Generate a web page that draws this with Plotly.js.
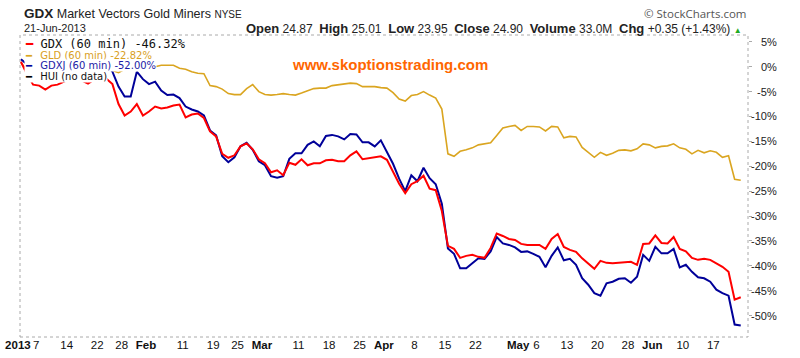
<!DOCTYPE html>
<html><head><meta charset="utf-8">
<script src="https://cdn.plot.ly/plotly-3.0.1.min.js"></script>
<style>html,body{margin:0;padding:0;background:#fff}#chart{width:800px;height:358px}</style>
</head><body><div id="chart"></div>
<script>
// Trading days, 2 Jan 2013 - 21 Jun 2013
const dates = [
 "2013-01-02","2013-01-03","2013-01-04","2013-01-07","2013-01-08","2013-01-09","2013-01-10","2013-01-11","2013-01-14","2013-01-15",
 "2013-01-16","2013-01-17","2013-01-18","2013-01-22","2013-01-23","2013-01-24","2013-01-25","2013-01-28","2013-01-29","2013-01-30",
 "2013-01-31","2013-02-01","2013-02-04","2013-02-05","2013-02-06","2013-02-07","2013-02-08","2013-02-11","2013-02-12","2013-02-13",
 "2013-02-14","2013-02-15","2013-02-19","2013-02-20","2013-02-21","2013-02-22","2013-02-25","2013-02-26","2013-02-27","2013-02-28",
 "2013-03-01","2013-03-04","2013-03-05","2013-03-06","2013-03-07","2013-03-08","2013-03-11","2013-03-12","2013-03-13","2013-03-14",
 "2013-03-15","2013-03-18","2013-03-19","2013-03-20","2013-03-21","2013-03-22","2013-03-25","2013-03-26","2013-03-27","2013-03-28",
 "2013-04-01","2013-04-02","2013-04-03","2013-04-04","2013-04-05","2013-04-08","2013-04-09","2013-04-10","2013-04-11","2013-04-12",
 "2013-04-15","2013-04-16","2013-04-17","2013-04-18","2013-04-19","2013-04-22","2013-04-23","2013-04-24","2013-04-25","2013-04-26",
 "2013-04-29","2013-04-30","2013-05-01","2013-05-02","2013-05-03","2013-05-06","2013-05-07","2013-05-08","2013-05-09","2013-05-10",
 "2013-05-13","2013-05-14","2013-05-15","2013-05-16","2013-05-17","2013-05-20","2013-05-21","2013-05-22","2013-05-23","2013-05-24",
 "2013-05-28","2013-05-29","2013-05-30","2013-05-31","2013-06-03","2013-06-04","2013-06-05","2013-06-06","2013-06-07","2013-06-10",
 "2013-06-11","2013-06-12","2013-06-13","2013-06-14","2013-06-17","2013-06-18","2013-06-19","2013-06-20","2013-06-21"
];

// % change series
const gdxPct = [
 1.0,-1.5,-3.6,-3.8,-4.6,-3.8,-3.6,-3.0,-2.5,-2.2,
 -2.8,-3.4,-2.6,-2.2,-2.4,-3.5,-7.5,-9.8,-9.0,-7.5,
 -9.8,-9.0,-8.0,-8.4,-8.2,-7.8,-7.6,-10.2,-9.6,-9.4,
 -10.3,-13.0,-14.0,-17.5,-18.3,-17.8,-16.0,-15.4,-16.6,-18.6,
 -19.4,-21.2,-20.8,-21.8,-19.3,-19.7,-18.6,-19.8,-19.4,-19.4,
 -18.8,-18.7,-19.0,-19.0,-17.8,-17.0,-18.6,-18.4,-18.3,-18.0,
 -18.7,-21.0,-23.5,-25.4,-23.6,-23.0,-21.9,-24.5,-24.8,-29.0,
 -36.0,-36.6,-38.4,-38.0,-37.8,-38.2,-38.4,-36.4,-33.5,-34.0,
 -34.6,-34.8,-35.6,-35.8,-35.8,-35.8,-36.6,-34.6,-33.6,-36.2,
 -36.8,-37.2,-38.5,-39.6,-40.6,-39.0,-39.4,-39.5,-39.4,-39.2,
 -39.2,-39.8,-35.6,-35.5,-33.9,-35.4,-35.5,-34.2,-36.6,-37.1,
 -38.4,-38.8,-38.6,-38.8,-39.5,-40.2,-41.2,-46.8,-46.32
];
const gldPct = [
 0.7,-0.5,-2.0,-2.2,-1.6,-1.2,-0.3,-0.5,0.0,0.4,
 0.3,0.4,0.5,0.2,1.0,-0.8,-1.2,-0.5,0.0,0.3,
 0.0,-0.2,0.0,0.3,0.3,0.3,-0.3,-0.5,-1.0,-1.3,
 -1.4,-3.8,-4.0,-4.5,-5.4,-5.6,-5.6,-4.4,-3.6,-5.0,
 -5.6,-5.7,-5.6,-5.4,-5.6,-5.7,-5.3,-4.9,-4.4,-4.3,
 -4.3,-3.8,-3.6,-3.5,-3.3,-3.4,-4.0,-4.0,-4.0,-4.2,
 -4.3,-5.2,-6.5,-6.9,-5.8,-5.6,-5.0,-5.7,-6.3,-8.5,
 -17.5,-18.0,-17.0,-16.7,-16.3,-15.7,-15.5,-15.3,-13.8,-12.3,
 -12.0,-11.8,-12.8,-12.0,-12.0,-12.1,-12.9,-12.0,-12.1,-14.3,
 -14.0,-14.1,-16.2,-17.2,-18.2,-17.2,-17.8,-17.4,-16.8,-16.7,
 -16.9,-16.5,-15.5,-15.7,-16.3,-16.0,-15.9,-15.5,-16.3,-16.6,
 -17.5,-16.8,-17.3,-16.9,-17.2,-18.2,-17.9,-22.6,-22.82
];
const gdxjPct = [
 1.5,0.5,-1.0,-1.5,-2.0,-1.2,-0.8,-1.5,-0.5,0.2,
 -0.5,-1.8,-1.0,0.0,0.5,-1.0,-4.0,-6.0,-6.0,-1.0,
 -2.5,-3.5,-3.0,-4.8,-5.7,-5.6,-6.3,-8.0,-8.6,-9.0,
 -9.8,-12.8,-13.8,-18.0,-19.2,-18.2,-16.0,-15.3,-16.7,-19.0,
 -19.8,-22.0,-22.3,-22.0,-18.5,-17.4,-17.4,-15.7,-15.0,-16.0,
 -13.9,-13.7,-14.0,-14.6,-13.5,-13.6,-15.2,-15.2,-16.0,-14.8,
 -17.0,-19.5,-22.5,-25.0,-21.8,-23.0,-20.3,-22.4,-23.6,-27.5,
 -36.5,-37.6,-40.5,-40.5,-39.5,-38.5,-38.6,-37.1,-34.2,-35.5,
 -35.8,-36.3,-37.2,-37.1,-37.6,-38.2,-40.3,-38.0,-36.3,-38.9,
 -38.6,-39.8,-42.5,-43.8,-45.5,-46.0,-43.5,-43.2,-42.6,-42.5,
 -43.4,-42.2,-37.8,-39.0,-36.2,-37.5,-37.5,-36.6,-40.3,-39.8,
 -41.2,-42.3,-42.5,-43.2,-44.8,-45.5,-46.0,-51.8,-52.0
];

// x tick labels
const xTickVals = ["2013-01-02","2013-01-07","2013-01-14","2013-01-22","2013-01-28","2013-02-01","2013-02-11","2013-02-19","2013-02-25",
 "2013-03-01","2013-03-11","2013-03-18","2013-03-25","2013-04-01","2013-04-08","2013-04-15","2013-04-22","2013-05-01","2013-05-06",
 "2013-05-13","2013-05-20","2013-05-28","2013-06-03","2013-06-10","2013-06-17"];
const xTickText = ["2013","7","14","22","28","Feb","11","19","25","Mar","11","18","25","Apr","8","15","22","May","6","13","20","28","Jun","10","17"];
const boldTicks = ["2013","Feb","Mar","Apr","May","Jun"];
const yTickVals = [5,0,-5,-10,-15,-20,-25,-30,-35,-40,-45,-50];

const seriesNames = ["GDX (60 min) -46.32%","GLD (60 min) -22.82%","GDXJ (60 min) -52.00%","HUI (no data)"];

const RED = "#ff0000", GOLD = "#daa520", NAVY = "#000099";
const ARIAL = 'Arial, "Liberation Sans", sans-serif';

// pixel helpers for layout placement (plot area: x 20..748, y 35..337)
const PL = 20, PR = 748, PT = 35, PB = 337;
const px = v => (v - PL) / (PR - PL);
const py = v => (PB - v) / (PB - PT);

const traces = [
  {x: dates, y: gldPct, type: "scatter", mode: "lines", name: seriesNames[1], line: {color: GOLD, width: 1.6}, hoverinfo: "skip"},
  {x: dates, y: gdxjPct, type: "scatter", mode: "lines", name: seriesNames[2], line: {color: NAVY, width: 2}, hoverinfo: "skip"},
  {x: dates, y: gdxPct, type: "scatter", mode: "lines", name: seriesNames[0], line: {color: RED, width: 2}, hoverinfo: "skip"}
];

const ann = [];
// header
ann.push({xref: "paper", yref: "paper", x: px(22), y: py(13), xanchor: "left", yanchor: "middle", showarrow: false,
  text: '<span style="font-weight:bold;font-size:13.5px">GDX</span> Market Vectors Gold Miners <span style="font-size:10px">NYSE</span>',
  font: {family: ARIAL, size: 12.5, color: "#222"}});
ann.push({xref: "paper", yref: "paper", x: px(22), y: py(28), xanchor: "left", yanchor: "middle", showarrow: false,
  text: "21-Jun-2013", font: {family: ARIAL, size: 11, color: "#222"}});
ann.push({xref: "paper", yref: "paper", x: px(744), y: py(28), xanchor: "right", yanchor: "middle", showarrow: false,
  text: '<span style="font-weight:bold;font-size:13px">Open</span> 24.87  <span style="font-weight:bold;font-size:13px">High</span> 25.01  <span style="font-weight:bold;font-size:13px">Low</span> 23.95  <span style="font-weight:bold;font-size:13px">Close</span> 24.90  <span style="font-weight:bold;font-size:13px">Volume</span> 33.0M  <span style="font-weight:bold;font-size:13px">Chg</span> +0.35 (+1.43%) <span style="color:#22aa22;font-size:8px">▲</span>',
  font: {family: ARIAL, size: 12, color: "#222"}});
ann.push({xref: "paper", yref: "paper", x: px(749), y: py(14), xanchor: "right", yanchor: "middle", showarrow: false,
  text: "© StockCharts.com", font: {family: '"Open Sans", sans-serif', size: 11.5, color: "#555"}});
// watermark
ann.push({xref: "paper", yref: "paper", x: px(389.5), y: py(64), xanchor: "center", yanchor: "middle", showarrow: false,
  text: "<b>www.skoptionstrading.com</b>", font: {family: ARIAL, size: 15, color: "#ff6600"}});
// legend (as text with white background)
ann.push({xref: "paper", yref: "paper", x: px(23.5), y: py(44), xanchor: "left", yanchor: "middle", showarrow: false,
  bgcolor: "#fff", borderpad: 0,
  text: '<span style="color:' + RED + '">━</span> ' + seriesNames[0],
  font: {family: '"DejaVu Sans Mono", monospace', size: 12, color: "#111"}});
const legRows = [
  {name: seriesNames[1], c: GOLD, tc: "#d9a01e", y: 55},
  {name: seriesNames[2], c: NAVY, tc: "#1a1aa6", y: 65.5},
  {name: seriesNames[3], c: "#000", tc: "#111", y: 76.5}
];
legRows.forEach(r => ann.push({xref: "paper", yref: "paper", x: px(23.5), y: py(r.y), xanchor: "left", yanchor: "middle",
  showarrow: false, bgcolor: "#fff", borderpad: 0,
  text: '<span style="color:' + r.c + '">━</span>\u00a0\u2002' + r.name,
  font: {family: '"DejaVu Sans", Verdana, sans-serif', size: 10, color: r.tc}}));
// right y labels (right aligned)
yTickVals.forEach(v => ann.push({xref: "paper", yref: "y", x: px(779), y: v, xanchor: "right", yanchor: "middle",
  showarrow: false, text: v + "%", font: {family: ARIAL, size: 11, color: "#222"}}));

const layout = {
  width: 800, height: 358,
  margin: {l: PL, r: 800 - PR, t: PT, b: 358 - PB, pad: 0},
  paper_bgcolor: "#fff", plot_bgcolor: "#fff",
  showlegend: false,
  xaxis: {
    type: "category", categoryorder: "array", categoryarray: dates,
    range: [-0.15, dates.length + 0.19],
    tickmode: "array", tickvals: xTickVals,
    ticktext: xTickText.map(t => boldTicks.includes(t) ? '<b>' + t + '</b>' : t),
    ticks: "", showgrid: false, zeroline: false, showline: false,
    tickfont: {family: ARIAL, size: 11.5, color: "#111"},
    ticklabelshift: -3, ticklabelstandoff: -1, fixedrange: true
  },
  yaxis: {
    side: "right", range: [-54.3, 6.37], tickmode: "array", tickvals: yTickVals,
    showticklabels: false, ticks: "outside", ticklen: 3, tickcolor: "#aaa",
    showgrid: false, zeroline: false, showline: false, fixedrange: true
  },
  shapes: [{type: "rect", xref: "paper", yref: "paper", x0: 0, x1: 1, y0: 0, y1: 1,
    line: {color: "#aaa", width: 1, dash: "dot"}, fillcolor: "rgba(0,0,0,0)", layer: "above"}],
  annotations: ann
};

Plotly.newPlot("chart", traces, layout, {staticPlot: true, displayModeBar: false});
</script></body></html>
